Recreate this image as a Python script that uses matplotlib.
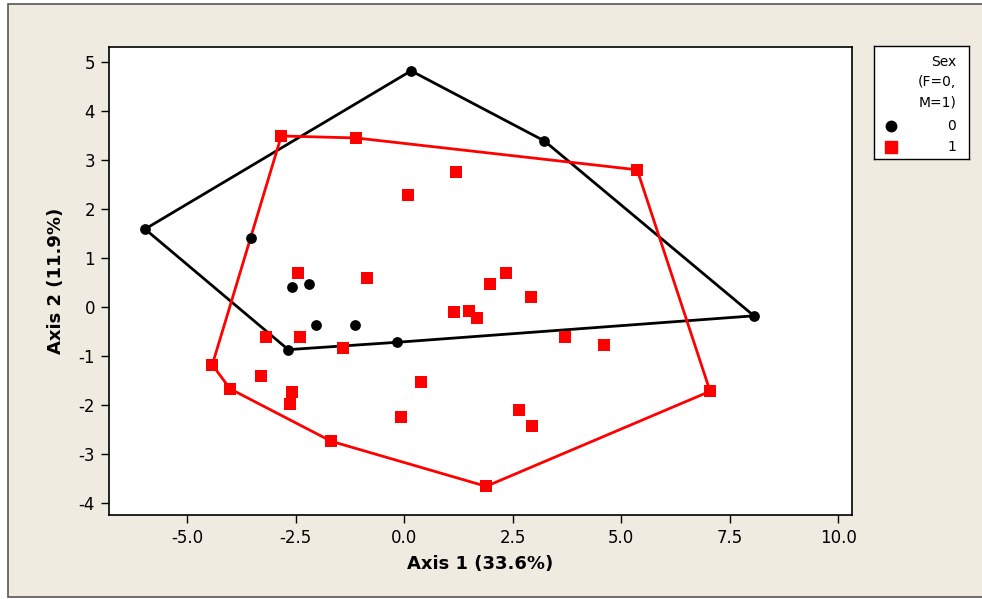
import numpy as np
import matplotlib
matplotlib.use("Agg")
import matplotlib.pyplot as plt
from matplotlib.patches import Rectangle

# PCA scores, axis 1 / axis 2, split by sex
female_x = [-5.97, 0.16, 3.23, 8.06, -2.67, -0.16, -3.53, -2.58, -2.19, -2.03, -1.13]
female_y = [1.59, 4.82, 3.39, -0.18, -0.87, -0.72, 1.41, 0.41, 0.47, -0.36, -0.36]

male_x = [-2.83, -1.11, 1.20, 0.09, -2.44, -0.85, 1.98, 2.35, 1.15, 1.50, 1.68,
          -3.18, -2.40, -1.41, -4.42, 5.37, 2.93, 3.71, 4.61, 7.05, 0.39, -0.07,
          2.65, 2.95, 1.89, -4.01, -3.29, -2.58, -2.63, -1.68]
male_y = [3.49, 3.45, 2.76, 2.29, 0.69, 0.59, 0.47, 0.69, -0.10, -0.08, -0.22,
          -0.61, -0.61, -0.84, -1.18, 2.80, 0.20, -0.61, -0.78, -1.72, -1.53, -2.25,
          -2.10, -2.43, -3.66, -1.67, -1.41, -1.74, -1.98, -2.74]

xticks = [-5.0, -2.5, 0.0, 2.5, 5.0, 7.5, 10.0]
yticks = [-4, -3, -2, -1, 0, 1, 2, 3, 4, 5]


def convex_hull(xs, ys):
    pts = sorted(set(zip(xs, ys)))

    def cross(o, a, b):
        return (a[0] - o[0]) * (b[1] - o[1]) - (a[1] - o[1]) * (b[0] - o[0])

    lower = []
    for p in pts:
        while len(lower) >= 2 and cross(lower[-2], lower[-1], p) <= 0:
            lower.pop()
        lower.append(p)
    upper = []
    for p in reversed(pts):
        while len(upper) >= 2 and cross(upper[-2], upper[-1], p) <= 0:
            upper.pop()
        upper.append(p)
    hull = lower[:-1] + upper[:-1]
    hull.append(hull[0])
    return np.array(hull)


plt.rcParams["font.family"] = "DejaVu Sans"
plt.rcParams["axes.unicode_minus"] = False

fig = plt.figure(figsize=(9.82, 5.99), dpi=100, facecolor="white")
W, H = 982, 599

# beige panel behind the plot
fig.patches.append(Rectangle((8 / W, 2 / H), 1.0, 1 - 6 / H, transform=fig.transFigure,
                             facecolor="#EFEBE1", edgecolor="#555555", lw=1.2, zorder=-5))

ax = fig.add_axes([109 / W, 1 - 515 / H, (852 - 109) / W, (515 - 47) / H])
ax.set_facecolor("white")

for xs, ys, col in [(female_x, female_y, "black"), (male_x, male_y, "#FF0000")]:
    hull = convex_hull(xs, ys)
    ax.plot(hull[:, 0], hull[:, 1], color=col, lw=2.0, zorder=2)

ax.scatter(female_x, female_y, marker="o", s=60, color="black", zorder=3, linewidths=0)
ax.scatter(male_x, male_y, marker="s", s=75, color="#FF0000", zorder=3, linewidths=0)

ax.set_xlim(-6.8, 10.32)
ax.set_ylim(-4.245, 5.306)
ax.set_xticks(xticks)
ax.set_xticklabels([f"{t:.1f}" for t in xticks])
ax.set_yticks(yticks)
ax.tick_params(direction="out", length=6, width=1, labelsize=12, colors="black", pad=4)
for sp in ax.spines.values():
    sp.set_color("black")
    sp.set_linewidth(1.2)

ax.set_xlabel("Axis 1 (33.6%)", fontsize=13, fontweight="bold", labelpad=6)
ax.set_ylabel("Axis 2 (11.9%)", fontsize=13, fontweight="bold", labelpad=10)

# legend box
lg = fig.add_axes([874 / W, 1 - 159 / H, 95 / W, 113 / H])
lg.set_facecolor("white")
lg.set_xlim(0, 95)
lg.set_ylim(113, 0)
lg.set_xticks([])
lg.set_yticks([])
for sp in lg.spines.values():
    sp.set_color("black")
    sp.set_linewidth(1.0)
for txt, yy in [("Sex", 16), ("(F=0,", 36), ("M=1)", 56), ("0", 80), ("1", 101)]:
    lg.text(82, yy, txt, ha="right", va="center", fontsize=10)
lg.plot([17], [80], marker="o", ms=7.5, color="black", ls="none")
lg.plot([17], [101], marker="s", ms=8, color="#FF0000", ls="none")

fig.savefig("out.png", dpi=100, facecolor=fig.get_facecolor())
